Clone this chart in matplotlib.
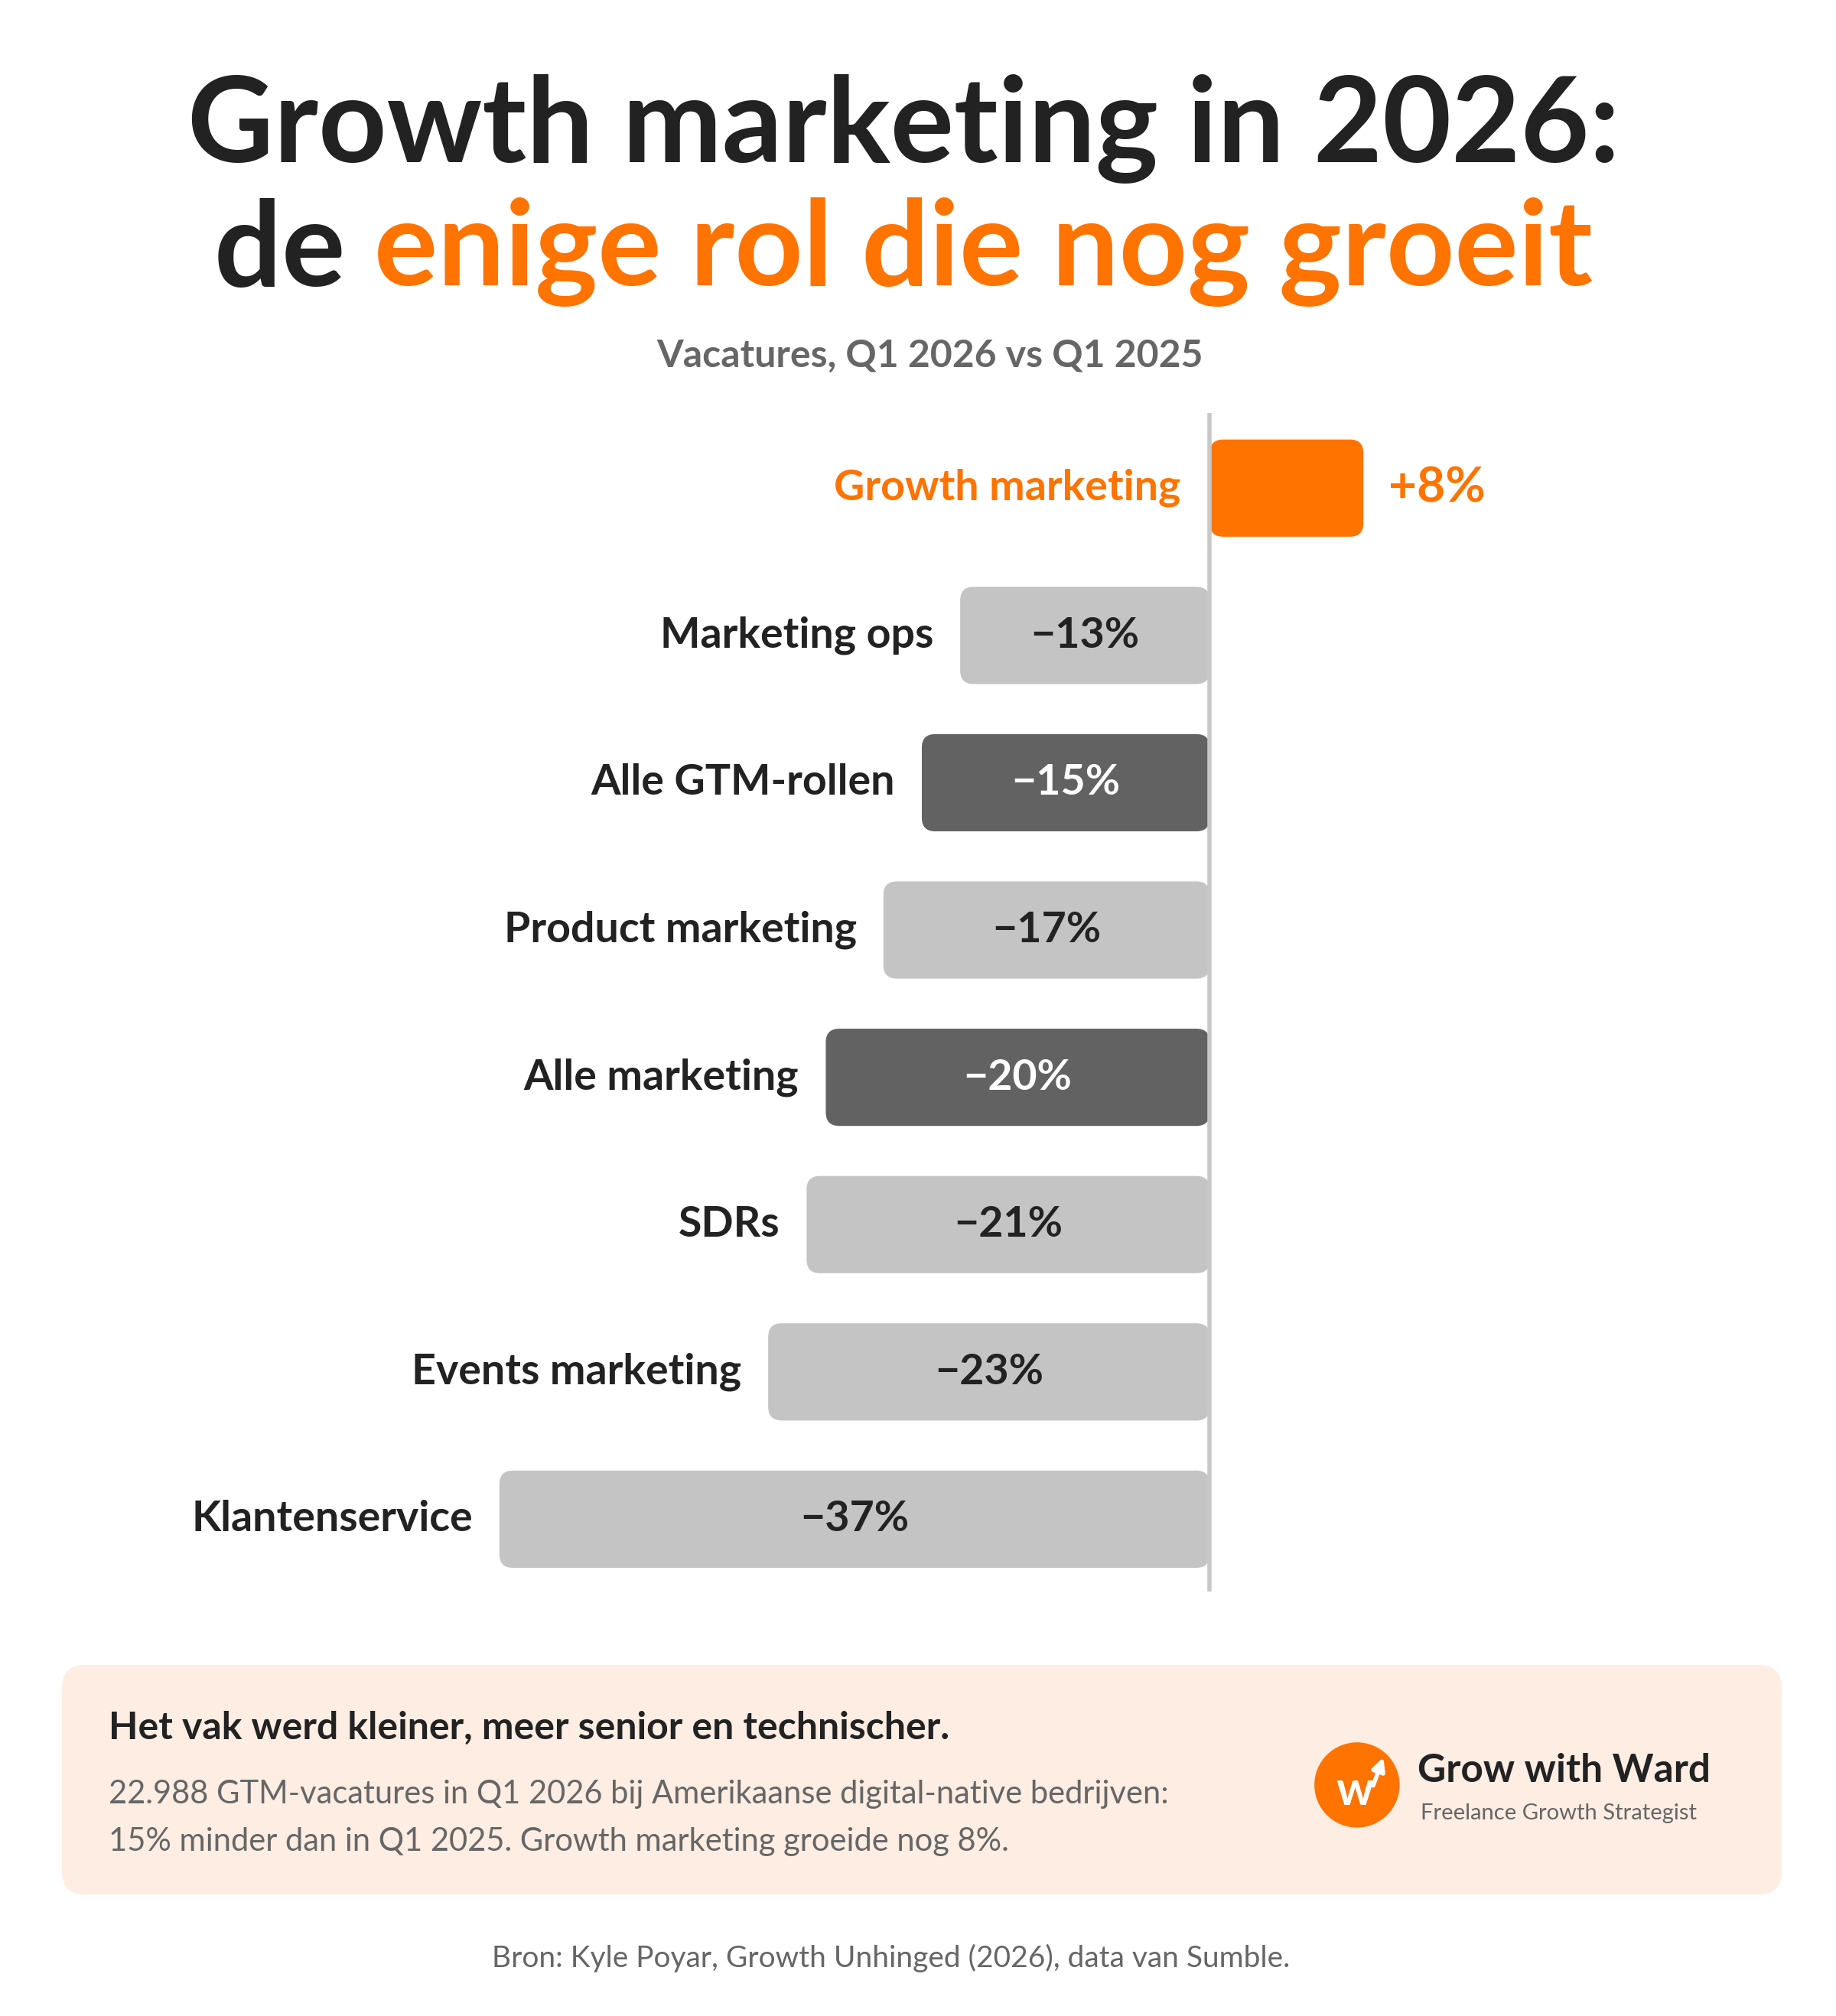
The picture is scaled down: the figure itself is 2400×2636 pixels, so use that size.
import matplotlib
matplotlib.use("Agg")
import matplotlib.pyplot as plt
from matplotlib.patches import FancyBboxPatch, Circle

plt.rcParams['font.family'] = ['Lato', 'DejaVu Sans']

categories = ["Growth marketing", "Marketing ops", "Alle GTM-rollen", "Product marketing",
              "Alle marketing", "SDRs", "Events marketing", "Klantenservice"]
values = [8, -13, -15, -17, -20, -21, -23, -37]
kinds = ["hi", "light", "dark", "light", "dark", "light", "light", "light"]

ORANGE = "#FF7300"; LIGHT = "#C4C4C4"; DARK = "#626262"; INK = "#222222"; GRAY = "#666666"
W, H = 2400, 2636
fig = plt.figure(figsize=(W/100, H/100), dpi=100)
fig.patch.set_facecolor("white")

ov = fig.add_axes([0, 0, 1, 1]); ov.set_xlim(0, 1422); ov.set_ylim(1562, 0); ov.axis("off")

ov.text(700, 100, "Growth marketing in 2026:", ha="center", va="center", fontsize=112, fontweight="bold", color=INK)
helper = ov.text(700, 195, "de enige rol die nog groeit", ha="center", va="center", fontsize=112, fontweight="bold")
t1 = ov.text(700, 195, "de ", ha="left", va="center", fontsize=112, fontweight="bold", color=INK)
fig.canvas.draw()
r = fig.canvas.get_renderer()
full = helper.get_window_extent(r)
de_w = t1.get_window_extent(r).width
helper.remove()
inv = ov.transData.inverted()
xs = inv.transform([full.x0, 0])[0]; xe = inv.transform([full.x0 + de_w, 0])[0]
t1.set_position((xs, 195))
ov.text(xe, 195, "enige rol die nog groeit", ha="left", va="center", fontsize=112, fontweight="bold", color=ORANGE)
ov.text(720, 276, "Vacatures, Q1 2026 vs Q1 2025", ha="center", va="center", fontsize=36, fontweight="bold", color=GRAY)

ax = fig.add_axes([0, 1 - 1233/1562, 1, (1233-320)/1562])
ppx = 14.87
zero = 937
ax.set_xlim(-zero/ppx, (1422-zero)/ppx)
n = len(values)
ax.set_ylim(n - 0.51, -0.51)
ax.axis("off")
bh = 0.66
asp = (1/114.0) / (1/ppx)
for i, (c, v, k) in enumerate(zip(categories, values, kinds)):
    col = {"hi": ORANGE, "light": LIGHT, "dark": DARK}[k]
    left = min(0, v)
    ax.add_patch(FancyBboxPatch((left, i - bh/2), abs(v), bh,
                                boxstyle="round,pad=0,rounding_size=0.7", mutation_aspect=asp,
                                fc=col, ec="none"))
    lab = f"+{v}%" if v > 0 else f"\u2212{abs(v)}%"
    if v > 0:
        ax.text(-1.5, i, c, ha="right", va="center", fontsize=40, fontweight="bold", color=ORANGE)
        ax.text(v + 1.3, i, lab, ha="left", va="center", fontsize=46, fontweight="bold", color=ORANGE)
    else:
        ax.text(v - 1.4, i, c, ha="right", va="center", fontsize=40, fontweight="bold", color=INK)
        ax.text(v/2, i, lab, ha="center", va="center", fontsize=40, fontweight="bold",
                color="white" if k == "dark" else INK)
ax.axvline(0, color="#C8C8C8", lw=4, zorder=5)

ov.add_patch(FancyBboxPatch((48, 1290), 1332, 178, boxstyle="round,pad=0,rounding_size=18",
                            fc="#FDEDE3", ec="none"))
ov.text(84, 1339, "Het vak werd kleiner, meer senior en technischer.", ha="left", va="center",
        fontsize=36, fontweight="bold", color=INK)
ov.text(84, 1390, "22.988 GTM-vacatures in Q1 2026 bij Amerikaanse digital-native bedrijven:",
        ha="left", va="center", fontsize=30, color=GRAY)
ov.text(84, 1427, "15% minder dan in Q1 2025. Growth marketing groeide nog 8%.",
        ha="left", va="center", fontsize=30, color=GRAY)
ov.add_patch(Circle((1051, 1383), 33, fc=ORANGE, ec="none"))
ov.text(1049, 1388, "w", ha="center", va="center", fontsize=44, fontweight="bold", color="white")
ov.annotate("", xy=(1072, 1360), xytext=(1063, 1385),
            arrowprops=dict(arrowstyle="-|>", color="white", lw=4, mutation_scale=25))
ov.text(1098, 1372, "Grow with Ward", ha="left", va="center", fontsize=37, fontweight="bold", color=INK)
ov.text(1100, 1405, "Freelance Growth Strategist", ha="left", va="center", fontsize=21, color=GRAY)

ov.text(690, 1517, "Bron: Kyle Poyar, Growth Unhinged (2026), data van Sumble.", ha="center", va="center",
        fontsize=28, color=GRAY)

fig.savefig("out.png", dpi=100, facecolor="white")
